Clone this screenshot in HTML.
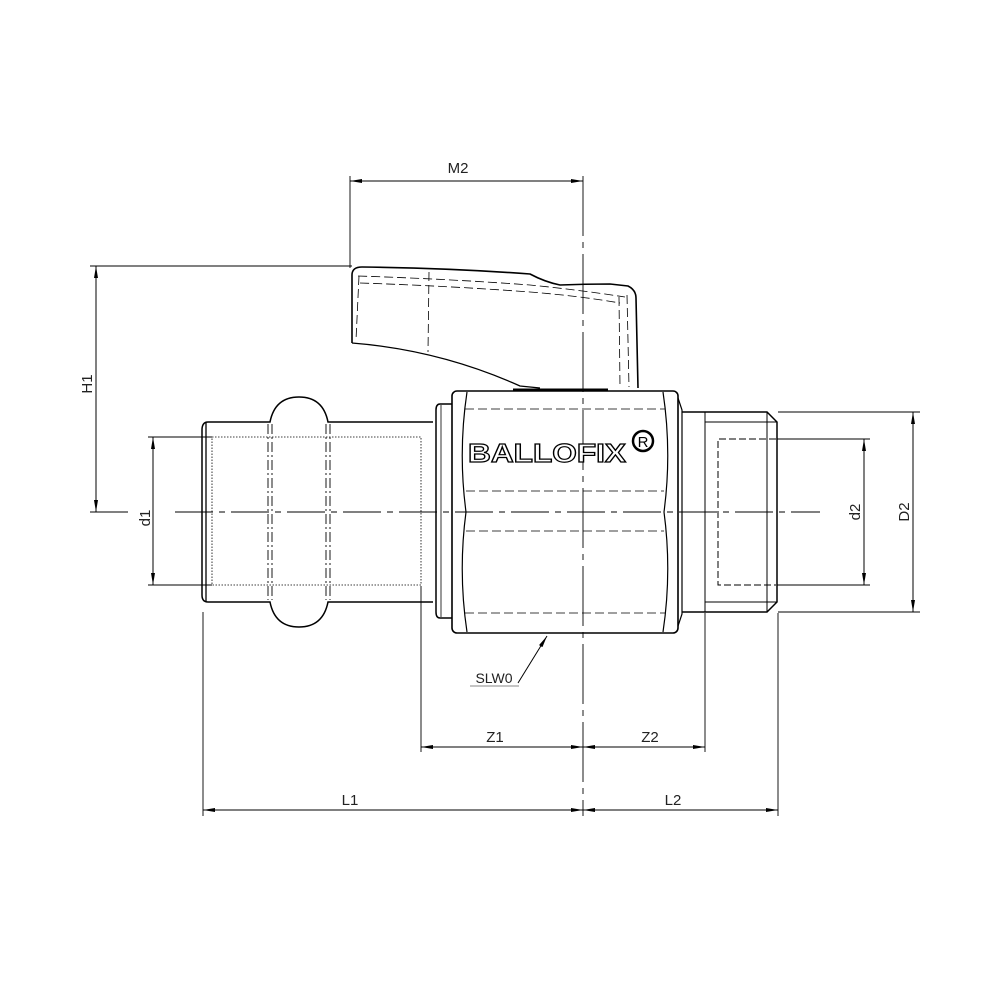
<!DOCTYPE html>
<html><head><meta charset="utf-8"><style>html,body{margin:0;padding:0;background:#fff}svg{display:block}</style></head>
<body>
<svg width="1000" height="1000" viewBox="0 0 1000 1000" xmlns="http://www.w3.org/2000/svg">
<defs>
<marker id="a" viewBox="0 0 12 4" refX="12" refY="2" markerWidth="12" markerHeight="4" orient="auto-start-reverse" markerUnits="userSpaceOnUse"><path d="M0,0 L12,2 L0,4 z" fill="#000"/></marker>
</defs>
<g fill="none" stroke="#000" stroke-width="1.3">
<!-- handle -->
<path d="M352,343 L352,275 Q352,267 362,267 Q450,268 530,274 Q545,282 560,285 Q585,284 610,284 L628,286 Q636,290 636,298 L638,388" stroke-width="1.6"/>
<path d="M352,343 Q440,350 520,386 L540,388"/>
<g stroke-width="0.8" stroke-dasharray="9,4">
<path d="M358,276 Q450,279 530,285 Q580,290 625,297"/>
<path d="M360,283 Q450,286 530,292 Q580,296 620,303"/>
<path d="M359,276 L356,340"/>
<path d="M429,272 L428,352"/>
<path d="M619,297 L620,387"/>
<path d="M627,295 L629,387"/>
</g>
<path d="M513,390 L608,390" stroke-width="3"/>
<!-- left pipe -->
<path d="M202,430 Q202,422 208,422 L270,422 Q275,397 299,397 Q323,397 328,422 L433,422 M202,430 L202,595 Q202,602 208,602 L270,602 Q275,627 299,627 Q323,627 328,602 L433,602" stroke-width="1.5"/>
<path d="M206,423 L206,601"/>
<g stroke-width="0.9" stroke-dasharray="10,3,2,3"><path d="M268,424 L268,600 M272,424 L272,600 M326,424 L326,600 M330,424 L330,600"/></g>
<rect x="212" y="437" width="209" height="148" stroke-width="0.8" stroke-dasharray="1.5,1.5"/>
<!-- collar -->
<path d="M452,404 L440,404 Q436,404 436,410 L436,612 Q436,618 440,618 L452,618" stroke-width="1.5"/>
<path d="M441,405 L441,617" stroke-width="0.8"/>
<!-- body -->
<rect x="452" y="391" width="226" height="242" rx="5" stroke-width="1.6"/>
<path d="M467,392 Q458,452 466,512 Q458,572 467,632 M663,392 Q672,452 664,512 Q672,572 663,632" stroke-width="1.2"/>
<g stroke-width="0.8" stroke-dasharray="9,4"><path d="M465,409 L665,409 M466,491 L664,491 M466,531 L664,531 M465,613 L665,613"/></g>
<!-- right fitting -->
<path d="M678,398 L682,410 L682,614 L678,626" stroke-width="1.2"/>
<path d="M682,412 L767,412 L777,422 L777,602 L767,612 L682,612" stroke-width="1.5"/>
<path d="M705,412 L705,612 M767,412 L767,612 M705,422 L777,422 M705,602 L777,602" stroke-width="1"/>
<path d="M776,439 L718,439 L718,585 L776,585" stroke-width="1" stroke-dasharray="7,3"/>
<!-- centerlines -->
<path d="M90,512 L130,512 M175,512 L820,512" stroke-width="0.9" stroke-dasharray="38,6,6,6"/>
<path d="M583,176 L583,816" stroke-width="0.9" stroke-dasharray="60,6,6,6"/>
<g stroke-width="0.9">
<path d="M350,176 L350,268 M90,266 L352,266"/>
<path d="M148,437 L212,437 M148,585 L212,585"/>
<path d="M777,439 L870,439 M777,585 L870,585 M778,412 L920,412 M778,612 L920,612"/>
<path d="M203,612 L203,816 M421,586 L421,752 M705,613 L705,752 M778,613 L778,816"/>
</g>
<g stroke-width="1" marker-start="url(#a)" marker-end="url(#a)">
<path d="M350,181 L583,181"/>
<path d="M96,266 L96,512"/>
<path d="M153,437 L153,585"/>
<path d="M864,439 L864,585"/>
<path d="M913,412 L913,612"/>
<path d="M421,747 L583,747"/>
<path d="M583,747 L705,747"/>
<path d="M203,810 L583,810"/>
<path d="M583,810 L778,810"/>
</g>
<path d="M518,683 L547,636" stroke-width="1" marker-end="url(#a)"/>
<path d="M470,686 L519,686" stroke="#888" stroke-width="1"/>
</g>
<g font-family="Liberation Sans, sans-serif" font-size="15" fill="#222" text-anchor="middle">
<text x="458" y="173">M2</text>
<text x="495" y="742">Z1</text>
<text x="650" y="742">Z2</text>
<text x="350" y="805">L1</text>
<text x="673" y="805">L2</text>
<text x="494" y="683" font-size="14">SLW0</text>
<text transform="translate(92,384) rotate(-90)">H1</text>
<text transform="translate(150,518) rotate(-90)">d1</text>
<text transform="translate(860,512) rotate(-90)">d2</text>
<text transform="translate(909,512) rotate(-90)">D2</text>
</g>
<text x="468" y="462" font-family="Liberation Sans, sans-serif" font-size="26" font-weight="bold" fill="#fff" stroke="#000" stroke-width="1.2" textLength="158" lengthAdjust="spacingAndGlyphs">BALLOFIX</text>
<circle cx="643" cy="441" r="10" fill="#fff" stroke="#000" stroke-width="2.5"/>
<text x="643" y="447" font-family="Liberation Sans, sans-serif" font-size="15" text-anchor="middle" fill="#000">R</text>
</svg>
</body></html>
